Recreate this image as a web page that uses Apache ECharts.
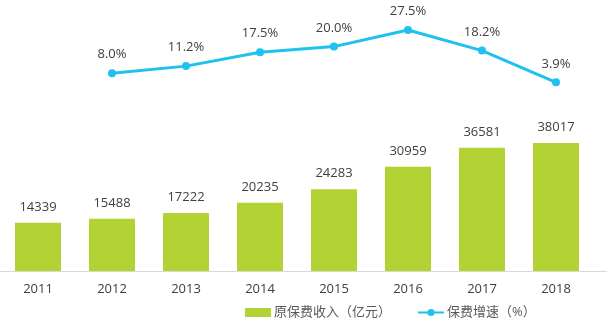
<!DOCTYPE html>
<html>
<head>
<meta charset="utf-8">
<script src="https://cdn.jsdelivr.net/npm/echarts@6/dist/echarts.min.js"></script>
<style>html,body{margin:0;padding:0;background:#fff;}#c{width:607px;height:335px;}</style>
</head>
<body>
<div id="c"></div>
<script>
var years = ['2011','2012','2013','2014','2015','2016','2017','2018'];
var premium = [14339, 15488, 17222, 20235, 24283, 30959, 36581, 38017];
var growth = [null, 8.0, 11.2, 17.5, 20.0, 27.5, 18.2, 3.9];
var barName = '原保费收入（亿元）';
var lineName = '保费增速（%）';

var font = '"Open Sans", "Noto Sans CJK SC", sans-serif';
var chart = echarts.init(document.getElementById('c'), null, {renderer: 'canvas'});
chart.setOption({
  animation: false,
  textStyle: {fontFamily: font},
  grid: {left: 1, right: 14, top: 20, bottom: 64, containLabel: false},
  legend: {
    left: 240, top: 301,
    itemGap: 26,
    itemWidth: 26, itemHeight: 9,
    textStyle: {fontSize: 13, color: '#595959', fontFamily: font, padding: [0, 0, 0, -2]},
    data: [
      {name: barName, icon: 'rect'},
      {name: lineName}
    ]
  },
  xAxis: {
    type: 'category',
    data: years,
    axisLine: {lineStyle: {color: '#d9d9d9', width: 1}},
    axisTick: {show: false},
    axisLabel: {color: '#404040', fontSize: 13, margin: 12, fontFamily: font}
  },
  yAxis: [
    {type: 'value', min: 0, max: 74547, show: false, splitLine: {show: false}},
    {type: 'value', min: -81.2, max: 32, show: false, splitLine: {show: false}}
  ],
  series: [
    {
      name: barName,
      type: 'bar',
      data: premium,
      yAxisIndex: 0,
      barWidth: 46,
      itemStyle: {color: '#b3d334'},
      label: {show: true, position: 'top', distance: 9, color: '#404040', fontSize: 13, fontFamily: font}
    },
    {
      name: lineName,
      type: 'line',
      data: growth,
      yAxisIndex: 1,
      symbol: 'circle',
      symbolSize: 8,
      lineStyle: {color: '#1fc1ee', width: 3},
      itemStyle: {color: '#1fc1ee'},
      label: {show: true, position: 'top', distance: 8, color: '#404040', fontSize: 13, fontFamily: font,
        formatter: function (p) { return p.value.toFixed(1) + '%'; }}
    }
  ]
});
var y0 = chart.convertToPixel({yAxisIndex: 0}, 0);
chart.setOption({
  graphic: [{
    type: 'line', silent: true, z: 0,
    shape: {x1: 0, y1: y0 + 0.5, x2: 607, y2: y0 + 0.5},
    style: {stroke: '#d9d9d9', lineWidth: 1}
  }]
});
</script>
</body>
</html>
